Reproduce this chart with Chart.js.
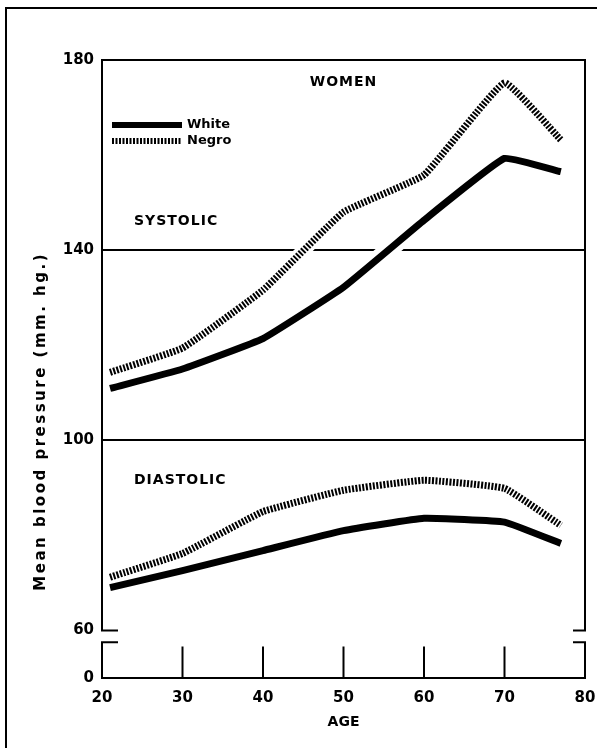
<!DOCTYPE html>
<html><head><meta charset="utf-8">
<script src="https://cdn.jsdelivr.net/npm/chart.js@4.4.0/dist/chart.umd.min.js"></script>
<style>
html,body{margin:0;padding:0;background:#fff;}
#wrap{position:relative;width:597px;height:748px;overflow:hidden;background:#fff;}
#frame{position:absolute;left:5px;top:7px;width:800px;height:900px;border-left:2px solid #000;border-top:2px solid #000;}
canvas{position:absolute;left:0;top:0;}
</style></head><body>
<div id="wrap"><div id="frame"></div><canvas id="c" width="597" height="748"></canvas></div>
<script>
// ---- data ----
const ages = [21, 30, 40, 50, 60, 70, 77];
const whiteSystolic  = [110.9, 115.0, 121.4, 132.2, 146.3, 159.3, 156.5];
const negroSystolic  = [114.3, 119.4, 131.6, 148.0, 155.8, 175.2, 163.2];
const whiteDiastolic = [69.0, 72.6, 76.8, 81.0, 83.6, 82.8, 78.3];
const negroDiastolic = [71.2, 76.2, 85.0, 89.5, 91.6, 89.9, 82.1];
const seriesNames = ['White', 'Negro'];
const xTickValues = [20, 30, 40, 50, 60, 70, 80];
// the axis is broken between 0 and 60; the "0" baseline sits just below the break
const yTickValues = [50, 60, 100, 140, 180];
const yTickLabels = ['0', '60', '100', '140', '180'];
const yBreakLow = 57.5;
const xTickMarkTop = 56.4;
const panelTitle = 'WOMEN';
const sectionLabels = ['SYSTOLIC', 'DIASTOLIC'];
const xTitle = 'AGE';
const yTitle = 'Mean blood pressure (mm. hg.)';

const FONT = 'DejaVu Sans';
const pts = arr => ages.map((a, i) => ({x: a, y: arr[i]}));
const negroDash = [2, 1.5];

function halo(arr, w) {
  return {label: '', data: pts(arr), borderColor: '#fff', borderWidth: w, pointRadius: 0,
          tension: 0.1, order: 5, borderCapStyle: 'butt'};
}
function series(name, arr, dashed) {
  return {label: name, data: pts(arr), borderColor: '#000', borderWidth: 7, pointRadius: 0,
          tension: 0.1, order: 0, borderDash: dashed ? negroDash : [], borderCapStyle: 'butt',
          borderJoinStyle: 'round'};
}

const decor = {
  id: 'decor',
  afterDraw(chart) {
    const {ctx, chartArea: a, scales: {x, y}} = chart;
    ctx.save();
    ctx.strokeStyle = '#000'; ctx.lineWidth = 2; ctx.lineCap = 'square';
    const yTop = y.getPixelForValue(180), y60 = y.getPixelForValue(60);
    const yBrk = y.getPixelForValue(yBreakLow), y0 = y.getPixelForValue(yTickValues[0]);
    const hookL = 15, hookR = 11;
    ctx.beginPath();
    ctx.moveTo(a.left + hookL, y60); ctx.lineTo(a.left, y60); ctx.lineTo(a.left, yTop);
    ctx.lineTo(a.right, yTop); ctx.lineTo(a.right, y60); ctx.lineTo(a.right - hookR, y60);
    ctx.moveTo(a.left + hookL, yBrk); ctx.lineTo(a.left, yBrk); ctx.lineTo(a.left, y0);
    ctx.lineTo(a.right, y0); ctx.lineTo(a.right, yBrk); ctx.lineTo(a.right - hookR, yBrk);
    xTickValues.slice(1, -1).forEach(v => {
      const px = x.getPixelForValue(v);
      ctx.moveTo(px, y0); ctx.lineTo(px, y.getPixelForValue(xTickMarkTop));
    });
    ctx.stroke();

    // legend
    const ds = chart.data.datasets.filter(d => d.label);
    ctx.lineCap = 'butt';
    [0, 1].forEach(i => {
      const d = ds[i];
      const ly = a.top + 65 + i * 16;
      ctx.beginPath();
      ctx.lineWidth = 6;
      ctx.setLineDash(d.borderDash);
      ctx.moveTo(a.left + 10, ly); ctx.lineTo(a.left + 80, ly);
      ctx.stroke();
      ctx.setLineDash([]);
      ctx.fillStyle = '#000';
      ctx.font = 'bold 13px "' + FONT + '"';
      ctx.textBaseline = 'middle'; ctx.textAlign = 'left';
      ctx.fillText(d.label, a.left + 85, ly);
    });

    // panel / section labels
    ctx.letterSpacing = '1px';
    ctx.font = 'bold 14px "' + FONT + '"';
    ctx.textAlign = 'center'; ctx.textBaseline = 'middle';
    ctx.fillText(panelTitle, (a.left + a.right) / 2, a.top + 22);
    ctx.textAlign = 'left';
    ctx.fillText(sectionLabels[0], a.left + 32, y.getPixelForValue(146));
    ctx.fillText(sectionLabels[1], a.left + 32, y.getPixelForValue(91.6));

    // y axis title
    ctx.letterSpacing = '2.5px';
    ctx.font = 'bold 15px "' + FONT + '"';
    ctx.translate(41, y.getPixelForValue(104));
    ctx.rotate(-Math.PI / 2);
    ctx.textAlign = 'center';
    ctx.fillText(yTitle, 0, 0);
    ctx.restore();
  }
};

new Chart(document.getElementById('c'), {
  type: 'line',
  data: {datasets: [
    halo(whiteSystolic, 18), halo(negroSystolic, 14), halo(whiteDiastolic, 14), halo(negroDiastolic, 14),
    series(seriesNames[0], whiteSystolic, false), series(seriesNames[1], negroSystolic, true),
    series('', whiteDiastolic, false), series('', negroDiastolic, true)
  ]},
  options: {
    responsive: false, animation: false, devicePixelRatio: 1,
    layout: {padding: {left: 0, right: 0, top: 60, bottom: 10}},
    plugins: {legend: {display: false}, tooltip: {enabled: false}},
    scales: {
      x: {
        type: 'linear', min: 20, max: 80,
        afterBuildTicks: s => { s.ticks = xTickValues.map(v => ({value: v})); },
        afterFit: s => { s.height = 60; s.paddingRight = 12; },
        grid: {display: false, drawTicks: false}, border: {display: false},
        ticks: {padding: 11, color: '#000', maxRotation: 0, font: {family: FONT, weight: 'bold', size: 15}},
        title: {display: true, text: xTitle, color: '#000', padding: {top: 6, bottom: 7.6},
                font: {family: FONT, weight: 'bold', size: 14}}
      },
      y: {
        type: 'linear', min: yTickValues[0], max: 180,
        afterBuildTicks: s => { s.ticks = yTickValues.map(v => ({value: v})); },
        afterFit: s => { s.width = 102; },
        grid: {drawTicks: false, lineWidth: 2,
               color: c => ([100, 140].includes(c.tick && c.tick.value) ? '#000' : 'rgba(0,0,0,0)')},
        border: {display: false},
        ticks: {padding: 8, color: '#000', font: {family: FONT, weight: 'bold', size: 15},
                callback: v => yTickLabels[yTickValues.indexOf(v)]}
      }
    }
  },
  plugins: [decor]
});
</script>
</body></html>
